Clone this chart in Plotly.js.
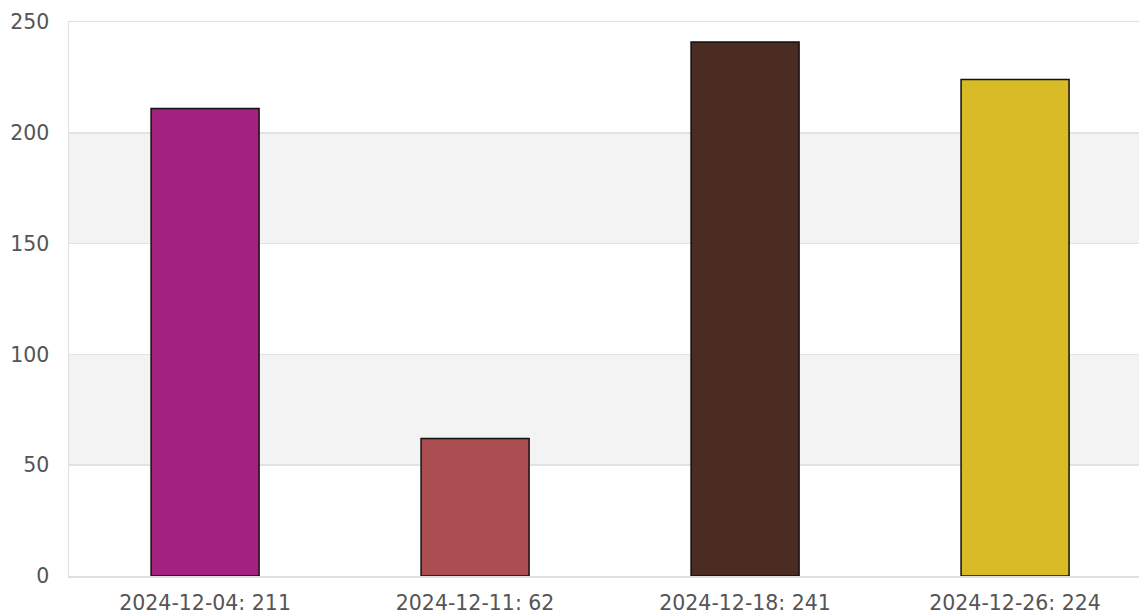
<!DOCTYPE html>
<html>
<head>
<meta charset="utf-8">
<script src="https://cdn.plot.ly/plotly-3.0.1.min.js"></script>
<style>
html,body{margin:0;padding:0;background:#fff;}
#chart{width:1139px;height:616px;}
</style>
</head>
<body>
<div id="chart"></div>
<script>
const categories = ["2024-12-04", "2024-12-11", "2024-12-18", "2024-12-26"];
const values = [211, 62, 241, 224];
const barColors = ["#a3217f", "#ab4e52", "#4b2c22", "#d9bb28"];
const yTicks = [0, 50, 100, 150, 200, 250];
const bandRanges = [[50, 100], [150, 200]];

const tickLabels = categories.map((c, i) => c + ": " + values[i]);

const trace = {
  type: "bar",
  x: categories,
  y: values,
  width: 0.4,
  marker: {color: barColors, line: {color: "#111111", width: 1.5}},
  hoverinfo: "x+y"
};

const shapes = bandRanges.map(r => ({
  type: "rect", xref: "paper", yref: "y", x0: 0, x1: 1, y0: r[0], y1: r[1],
  fillcolor: "#f3f3f3", line: {width: 0}, layer: "below"
}));

const layout = {
  width: 1139, height: 616,
  margin: {l: 69, r: 0, t: 22, b: 40, pad: 0},
  paper_bgcolor: "#ffffff",
  plot_bgcolor: "rgba(0,0,0,0)",
  showlegend: false,
  font: {family: "DejaVu Sans", size: 20.5, color: "#555555"},
  xaxis: {
    type: "category",
    range: [-0.504, 3.459],
    tickvals: categories,
    ticktext: tickLabels,
    showgrid: false,
    showline: true, mirror: true, linecolor: "#e0e0e0", linewidth: 1.5,
    ticks: "", ticklabelstandoff: 8,
    zeroline: false, fixedrange: true
  },
  yaxis: {
    range: [0, 250],
    tickvals: yTicks,
    showgrid: true, gridcolor: "#e2e2e2", gridwidth: 1.5,
    showline: true, linecolor: "#e0e0e0", linewidth: 1.5,
    ticks: "", ticklabelstandoff: 14,
    zeroline: false, fixedrange: true
  },
  shapes: shapes
};

Plotly.newPlot("chart", [trace], layout, {displayModeBar: false, staticPlot: true});
</script>
</body>
</html>
